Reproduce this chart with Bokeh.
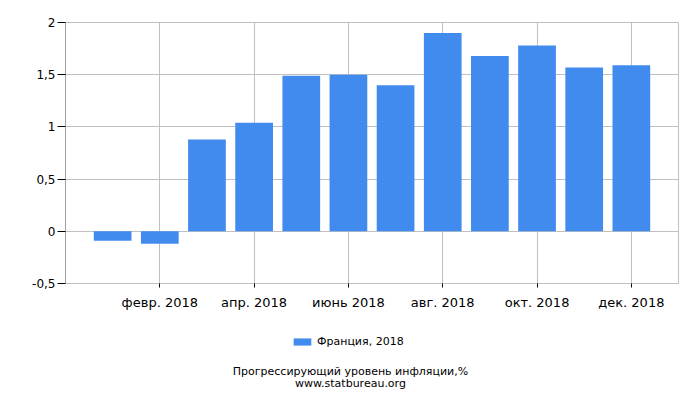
from bokeh.plotting import figure
from bokeh.layouts import column
from bokeh.models import FixedTicker, Legend, LegendItem, ColumnDataSource, Range1d
from bokeh.embed import file_html
from bokeh.resources import INLINE

months = ["янв. 2018", "февр. 2018", "март 2018", "апр. 2018", "май 2018", "июнь 2018",
          "июль 2018", "авг. 2018", "сент. 2018", "окт. 2018", "нояб. 2018", "дек. 2018"]
values = [-0.09, -0.12, 0.88, 1.04, 1.49, 1.50, 1.40, 1.90, 1.68, 1.78, 1.57, 1.59]
tick_months = ["февр. 2018", "апр. 2018", "июнь 2018", "авг. 2018", "окт. 2018", "дек. 2018"]
y_ticks = [-0.5, 0, 0.5, 1, 1.5, 2]
y_labels = ["-0,5", "0", "0,5", "1", "1,5", "2"]
series_name = "Франция, 2018"
captions = ["Прогрессирующий уровень инфляции,%", "www.statbureau.org"]

FONT = "DejaVu Sans"
BAR = "#418BEF"
GRID = "#C0C0C0"
W = 684
LEFT, RIGHT = 65, 6

xs = list(range(len(months)))
src = ColumnDataSource(dict(x=xs, top=values, name=months))

# ---- main chart ----
p = figure(width=W, height=312, output_backend="svg", toolbar_location=None,
           x_range=Range1d(-1, 12), y_range=Range1d(-0.5, 2),
           min_border_left=LEFT, min_border_right=RIGHT, min_border_top=22, min_border_bottom=28)

p.vbar(x="x", top="top", bottom=0, width=0.8, source=src, color=BAR, line_color=None)

tick_pos = [months.index(m) for m in tick_months]
p.xaxis.ticker = FixedTicker(ticks=tick_pos)
p.xaxis.major_label_overrides = {i: months[i] for i in tick_pos}
p.xaxis.minor_tick_line_color = None
p.xaxis.major_tick_in = 0
p.xaxis.major_tick_out = 4
p.xaxis.major_tick_line_color = "black"
p.xaxis.axis_line_color = GRID
p.xaxis.major_label_standoff = 7
p.xaxis.major_label_text_font = FONT
p.xaxis.major_label_text_font_size = "13px"
p.xaxis.major_label_text_color = "black"

p.yaxis.ticker = FixedTicker(ticks=y_ticks)
p.yaxis.major_label_overrides = {t: l for t, l in zip(y_ticks, y_labels)}
p.yaxis.minor_tick_line_color = None
p.yaxis.major_tick_in = 0
p.yaxis.major_tick_out = 8
p.yaxis.major_tick_line_color = "black"
p.yaxis.axis_line_color = "#A0A0A0"
p.yaxis.major_label_standoff = 2
p.yaxis.major_label_text_font = FONT
p.yaxis.major_label_text_font_size = "12px"
p.yaxis.major_label_text_color = "black"

p.xgrid.grid_line_color = GRID
p.ygrid.grid_line_color = GRID
p.outline_line_color = GRID
p.background_fill_color = "white"
p.border_fill_color = "white"

# ---- legend and captions strip (x in page pixels) ----
H2 = 78
p2 = figure(width=W, height=H2, output_backend="svg", toolbar_location=None,
            x_range=Range1d(LEFT, W - RIGHT), y_range=Range1d(H2, 0),
            min_border_left=LEFT, min_border_right=RIGHT, min_border_top=0, min_border_bottom=0)
p2.axis.visible = False
p2.grid.visible = False
p2.outline_line_color = None
p2.background_fill_color = "white"
p2.border_fill_color = "white"

# zero-height bars: only give the legend its swatch
swatch = p2.vbar(x="x", top=0, bottom=0, width=0.8, source=src, color=BAR, line_color=None)
legend = Legend(items=[LegendItem(label=series_name, renderers=[swatch])],
                orientation="horizontal", location=(226, 42),
                label_text_font=FONT, label_text_font_size="11px",
                label_text_color="black",
                glyph_width=22, glyph_height=9, label_standoff=4,
                border_line_color=None, background_fill_alpha=0,
                margin=0, padding=0, spacing=0)
p2.add_layout(legend, "center")

cap_src = ColumnDataSource(dict(x=[350, 350], y=[59, 71], text=captions))
p2.text(x="x", y="y", text="text", source=cap_src, text_align="center",
        text_baseline="middle", text_font_size="11px", text_color="black",
        text_font={"value": FONT})

layout = column(p, p2, spacing=0)
open("out.html", "w").write(file_html(layout, INLINE))
